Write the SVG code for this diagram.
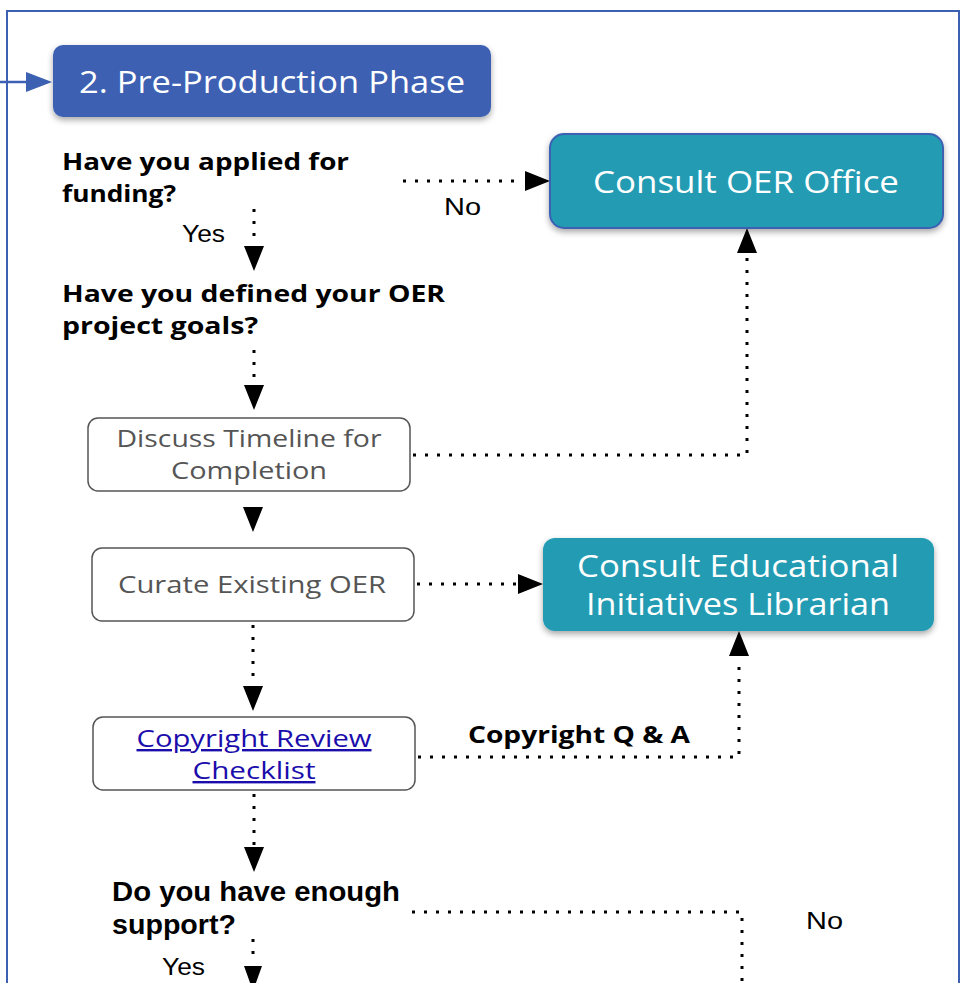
<svg xmlns="http://www.w3.org/2000/svg" width="963" height="983" viewBox="0 0 963 983">
<defs>
  <filter id="sh" x="-10%" y="-20%" width="120%" height="150%">
    <feDropShadow dx="0" dy="3" stdDeviation="3" flood-color="#000" flood-opacity="0.35"/>
  </filter>
  <style>
    .frame{fill:none;stroke:#3c61b3;stroke-width:2}
    .dot{fill:none;stroke:#000;stroke-width:3;stroke-dasharray:3 9}
    .head{fill:#000}
    .box{fill:#fff;stroke:#555;stroke-width:1.5}
    .teal{fill:#229bb3}
    .lt{font-family:"Open Sans","Noto Sans",sans-serif;fill:#fff;font-size:31px;text-anchor:middle}
    .gt{font-family:"Open Sans","Noto Sans",sans-serif;fill:#555;font-size:24px;text-anchor:middle}
    .q{font-family:"Open Sans","Noto Sans",sans-serif;font-weight:bold;font-size:24px;fill:#000}
    .qa{font-family:"Liberation Sans",Arial,sans-serif;font-weight:bold;font-size:27px;fill:#000}
    .lab{font-family:"Liberation Sans",Arial,sans-serif;font-size:23px;fill:#000}
    .link{font-family:"Open Sans","Noto Sans",sans-serif;fill:#1a0dab;font-size:24px;text-anchor:middle;text-decoration:underline}
  </style>
</defs>
<rect width="963" height="983" fill="#fff"/>
<path class="frame" d="M7,983 V11 H959 V983"/>

<g id="connectors">
  <line x1="0" y1="82" x2="30" y2="82" stroke="#3c61b3" stroke-width="2.5"/>
  <path d="M26,72 L52,82 L26,92 z" fill="#3c61b3"/>
  <line class="dot" x1="403" y1="181" x2="522" y2="181"/>
  <path class="head" d="M525,171 L550,181 L525,191 z"/>
  <line class="dot" x1="254" y1="209" x2="254" y2="245"/>
  <path class="head" d="M244,246 L254,271 L264,246 z"/>
  <line class="dot" x1="254" y1="350" x2="254" y2="384"/>
  <path class="head" d="M244,385 L254,410 L264,385 z"/>
  <path class="dot" d="M413,455 H747 V256"/>
  <path class="head" d="M737,253 L747,228 L757,253 z"/>
  <path class="head" d="M243,507 L253,532 L263,507 z"/>
  <line class="dot" x1="417" y1="584" x2="516" y2="584"/>
  <path class="head" d="M518,574 L543,584 L518,594 z"/>
  <line class="dot" x1="253" y1="625" x2="253" y2="685"/>
  <path class="head" d="M243,686 L253,711 L263,686 z"/>
  <path class="dot" d="M418,757 H739 V659"/>
  <path class="head" d="M729,656 L739,631 L749,656 z"/>
  <line class="dot" x1="254" y1="794" x2="254" y2="845"/>
  <path class="head" d="M244,847 L254,872 L264,847 z"/>
  <path class="dot" d="M412,912 H742 V983"/>
  <line class="dot" x1="253" y1="939" x2="253" y2="962"/>
  <path class="head" d="M244,966 L253,991 L262,966 z"/>
</g>

<g id="n-preprod">
  <rect x="53" y="45" width="438" height="72" rx="10" fill="#3c61b3" filter="url(#sh)"/>
  <text class="lt" x="272" y="93" font-size="30" textLength="386" lengthAdjust="spacingAndGlyphs">2. Pre-Production Phase</text>
</g>

<g id="n-oer-office">
  <rect x="550" y="134" width="393" height="94" rx="14" class="teal" stroke="#3c61b3" stroke-width="2" filter="url(#sh)"/>
  <text class="lt" x="746" y="193" font-size="32" textLength="306" lengthAdjust="spacingAndGlyphs">Consult OER Office</text>
</g>

<g id="n-funding">
  <text class="q" x="62" y="170" textLength="287" lengthAdjust="spacingAndGlyphs">Have you applied for</text>
  <text class="q" x="62" y="202" textLength="114" lengthAdjust="spacingAndGlyphs">funding?</text>
</g>
<text class="lab" x="444" y="215" textLength="37" lengthAdjust="spacingAndGlyphs">No</text>
<text class="lab" x="182" y="242" textLength="43" lengthAdjust="spacingAndGlyphs">Yes</text>

<g id="n-goals">
  <text class="q" x="62" y="302" textLength="383" lengthAdjust="spacingAndGlyphs">Have you defined your OER</text>
  <text class="q" x="62" y="334" textLength="196" lengthAdjust="spacingAndGlyphs">project goals?</text>
</g>

<g id="n-discuss">
  <rect class="box" x="88" y="418" width="322" height="73" rx="10"/>
  <text class="gt" x="249" y="447" textLength="265" lengthAdjust="spacingAndGlyphs">Discuss Timeline for</text>
  <text class="gt" x="249" y="479" textLength="156" lengthAdjust="spacingAndGlyphs">Completion</text>
</g>

<g id="n-curate">
  <rect class="box" x="92" y="548" width="322" height="73" rx="10"/>
  <text class="gt" x="252" y="593" textLength="268" lengthAdjust="spacingAndGlyphs">Curate Existing OER</text>
</g>

<g id="n-librarian">
  <rect x="543" y="538" width="391" height="93" rx="12" class="teal" filter="url(#sh)"/>
  <text class="lt" x="738" y="577" textLength="322" lengthAdjust="spacingAndGlyphs">Consult Educational</text>
  <text class="lt" x="738" y="615" textLength="304" lengthAdjust="spacingAndGlyphs">Initiatives Librarian</text>
</g>

<g id="n-copyright">
  <rect class="box" x="93" y="717" width="322" height="73" rx="10"/>
  <text class="link" x="254" y="747" textLength="235" lengthAdjust="spacingAndGlyphs">Copyright Review</text>
  <text class="link" x="254" y="779" textLength="123" lengthAdjust="spacingAndGlyphs">Checklist</text>
</g>
<text class="q" x="468" y="743" textLength="222" lengthAdjust="spacingAndGlyphs">Copyright Q &amp; A</text>

<g id="n-support">
  <text class="qa" x="112" y="901" textLength="288" lengthAdjust="spacingAndGlyphs">Do you have enough</text>
  <text class="qa" x="112" y="934" textLength="124" lengthAdjust="spacingAndGlyphs">support?</text>
</g>
<text class="lab" x="806" y="929" textLength="37" lengthAdjust="spacingAndGlyphs">No</text>
<text class="lab" x="162" y="975" textLength="43" lengthAdjust="spacingAndGlyphs">Yes</text>
</svg>
